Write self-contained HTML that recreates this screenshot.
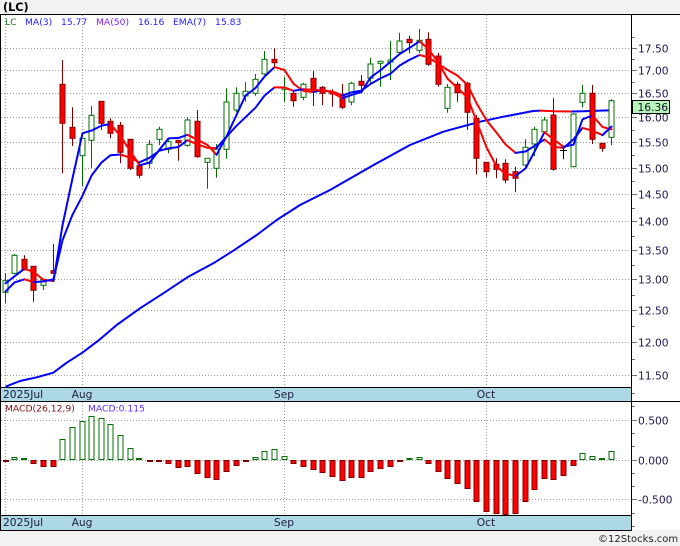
<!DOCTYPE html>
<html><head><meta charset="utf-8"><style>
html,body{margin:0;padding:0;background:#f2f2f2;}
svg{display:block;}
text{font-family:"DejaVu Sans","Liberation Sans",sans-serif;}
</style></head><body>
<svg width="680" height="546" viewBox="0 0 680 546" xmlns="http://www.w3.org/2000/svg">
<rect width="680" height="546" fill="#f2f2f2"/>
<rect x="0" y="15" width="680" height="515" fill="#ffffff"/>
<text x="3" y="11" font-size="11.2" font-weight="bold" fill="#000">(LC)</text>
<path d="M0 14.5H680" stroke="#000" stroke-width="1"/>

<!-- horizontal gridlines main -->
<g stroke="#9a9a9a" stroke-width="1" stroke-dasharray="1 2" fill="none">
<path d="M1 48.5H631M1 70.5H631M1 93.5H631M1 117.5H631M1 142.5H631M1 168.5H631M1 194.5H631M1 221.5H631M1 250.5H631M1 279.5H631M1 310.5H631M1 342.5H631M1 375.5H631"/>
<path d="M5.5 15V387M82.5 15V387M284.5 15V387M486.5 15V387"/>
<path d="M1 420.5H631M1 460.5H631M1 499.5H631"/>
<path d="M5.5 402V515M82.5 402V515M284.5 402V515M486.5 402V515"/>
</g>

<!-- date bars -->
<rect x="0" y="387" width="631" height="14" fill="#add8e6"/>
<path d="M0 387.5H631" stroke="#000"/>
<path d="M0 401.5H680" stroke="#000"/>
<rect x="0" y="515" width="631" height="15" fill="#add8e6"/>
<path d="M0 515.5H631" stroke="#000"/>
<path d="M0 530.5H632" stroke="#000"/>
<text x="3" y="398" font-size="10.7" fill="#202040">2025Jul</text>
<text x="82" y="398" font-size="10.7" fill="#202040" text-anchor="middle">Aug</text>
<text x="284" y="398" font-size="10.7" fill="#202040" text-anchor="middle">Sep</text>
<text x="486" y="398" font-size="10.7" fill="#202040" text-anchor="middle">Oct</text>
<text x="3" y="526" font-size="10.7" fill="#202040">2025Jul</text>
<text x="82" y="526" font-size="10.7" fill="#202040" text-anchor="middle">Aug</text>
<text x="284" y="526" font-size="10.7" fill="#202040" text-anchor="middle">Sep</text>
<text x="486" y="526" font-size="10.7" fill="#202040" text-anchor="middle">Oct</text>

<!-- MA50 -->
<polyline fill="none" stroke="#0000ff" stroke-width="2" stroke-linejoin="round" points="5.5,386.7 20,381 36.7,377.3 53.3,372.7 66.7,362.7 82.3,352.7 100,339.3 116.7,325 140,308.3 163.3,293.3 188.3,276.7 213.3,263.3 233.3,250.7 256.7,235 276.7,220 300,205 330,190 376.7,163.3 410,145 443.3,131.7 480,121.7 503.3,116.7 533.3,111 540,110.6"/>
<polyline fill="none" stroke="#ff0000" stroke-width="2" stroke-linejoin="round" points="540,110.6 553.3,111.3 572,111.5"/>
<polyline fill="none" stroke="#0000ff" stroke-width="2" stroke-linejoin="round" points="572,111.5 583.3,111.3 611.5,110.2"/>

<!-- green candles -->
<g stroke="#007000" stroke-width="1" fill="#ffffff">
<path d="M5.5 273V303M14.5 254V274M43.5 279V290M82.5 138V186M91.5 106V167.7M149.5 140V168.3M159.5 126.7V145M168.5 138.3V153.3M187.5 117.3V146.7M207.5 158.3V188.7M216.5 144V177.7M226.5 88.3V158.7M236.5 87.3V112.3M245.5 82V101.7M255.5 74V95.7M264.5 51V75M284.5 76.7V101.7M303.5 82.7V100M351.5 81.7V105.3M370.5 57.7V83.3M380.5 60.7V86.7M390.5 41V80M399.5 32.7V53.3M419.5 29V53.3M447.5 84V112.7M525.5 139.3V166.7M534.5 126.7V156M544.5 116.7V133.3M573.5 113.3V167.3M582.5 85V107.3M611.5 99.3V145"/>
<rect x="3" y="280.7" width="5" height="11.6"/>
<rect x="12" y="255.3" width="5" height="18"/>
<rect x="41" y="279.3" width="5" height="6"/>
<rect x="80" y="138.3" width="5" height="17.4"/>
<rect x="89" y="115.3" width="5" height="25"/>
<rect x="147" y="144.3" width="5" height="19"/>
<rect x="157" y="129.3" width="5" height="10"/>
<rect x="166" y="141.7" width="5" height="7.6"/>
<rect x="185" y="120" width="5" height="25.3"/>
<rect x="205" y="158.3" width="5" height="4"/>
<rect x="214" y="149.3" width="5" height="19"/>
<rect x="224" y="102" width="5" height="47.3"/>
<rect x="234" y="93.3" width="5" height="16.7"/>
<rect x="243" y="91.3" width="5" height="4.7"/>
<rect x="253" y="79.3" width="5" height="14"/>
<rect x="262" y="59.3" width="5" height="14.7"/>
<rect x="282" y="88" width="5" height="1.3"/>
<rect x="301" y="84.3" width="5" height="13"/>
<rect x="349" y="83.3" width="5" height="18.7"/>
<rect x="368" y="64" width="5" height="14.3"/>
<rect x="378" y="61.3" width="5" height="2"/>
<rect x="388" y="60" width="5" height="2"/>
<rect x="397" y="41" width="5" height="11.3"/>
<rect x="417" y="40.3" width="5" height="10"/>
<rect x="445" y="87.3" width="5" height="21"/>
<rect x="523" y="147.3" width="5" height="17.7"/>
<rect x="532" y="129.3" width="5" height="14.7"/>
<rect x="542" y="120" width="5" height="11.7"/>
<rect x="571" y="114" width="5" height="52.7"/>
<rect x="580" y="93.3" width="5" height="9"/>
<rect x="609" y="100.7" width="5" height="36.6"/>
</g>

<!-- red candles -->
<g stroke="#800000" stroke-width="1" fill="#ff0000">
<path d="M24.5 255.3V270M33.5 266V301.7M53.5 244V273.3M62.5 60V173.3M72.5 107.3V146M101.5 101.3V130M110.5 118.3V138.3M120.5 122V163.3M130.5 139.3V170M139.5 163.3V178.3M178.5 140.3V160.7M197.5 110V157.7M274.5 48.3V67.3M293.5 90.7V106.7M313.5 71V106M322.5 86V105M332.5 89.3V106.7M342.5 84V109.3M361.5 75V90M409.5 35.7V53.3M428.5 32.3V65.7M438.5 52.7V86.7M457.5 81.7V101.7M467.5 81.7V130M476.5 115V174.5M486.5 162.3V177.3M496.5 158.3V178.3M505.5 159.3V183.3M515.5 166.7V192.3M553.5 98.3V170.7M592.5 85V144M602.5 143.3V151.7"/>
<rect x="22" y="259.3" width="5" height="10.7"/>
<rect x="31" y="266.3" width="5" height="24"/>
<rect x="51" y="270.7" width="5" height="2.6"/>
<rect x="60" y="84.3" width="5" height="39"/>
<rect x="70" y="127.3" width="5" height="11"/>
<rect x="99" y="101.3" width="5" height="22"/>
<rect x="108" y="121.3" width="5" height="12"/>
<rect x="118" y="125.3" width="5" height="27"/>
<rect x="128" y="139.3" width="5" height="29"/>
<rect x="137" y="165.7" width="5" height="9.6"/>
<rect x="176" y="140.3" width="5" height="2.4"/>
<rect x="195" y="121.3" width="5" height="35.4"/>
<rect x="272" y="59.3" width="5" height="3.4"/>
<rect x="291" y="93.3" width="5" height="7.4"/>
<rect x="311" y="78.3" width="5" height="13"/>
<rect x="320" y="87.3" width="5" height="6"/>
<rect x="330" y="92" width="5" height="2"/>
<rect x="340" y="96" width="5" height="11.3"/>
<rect x="359" y="81.3" width="5" height="4"/>
<rect x="407" y="39.3" width="5" height="3.4"/>
<rect x="426" y="39.3" width="5" height="25"/>
<rect x="436" y="56" width="5" height="28.3"/>
<rect x="455" y="84.3" width="5" height="8.4"/>
<rect x="465" y="83.3" width="5" height="29"/>
<rect x="474" y="118.3" width="5" height="40"/>
<rect x="484" y="162.3" width="5" height="9.4"/>
<rect x="494" y="164.3" width="5" height="5"/>
<rect x="503" y="163.3" width="5" height="16.7"/>
<rect x="513" y="171.7" width="5" height="6.6"/>
<rect x="551" y="115" width="5" height="54.3"/>
<rect x="590" y="93.3" width="5" height="46"/>
<rect x="600" y="143.3" width="5" height="5"/>
</g>
<!-- doji -->
<path d="M563.5 146V159.3M560 150.5H567" stroke="#000" stroke-width="1"/>

<!-- MA3 -->
<g fill="none" stroke-width="2" stroke-linejoin="round" stroke-linecap="round">
<polyline stroke="#0000ff" points="5.5,283.3 14.5,276.3 24.5,268.7"/>
<polyline stroke="#ff0000" points="24.5,268.7 33.5,271.9 43.5,279.9 53.5,281"/>
<polyline stroke="#0000ff" points="53.5,281 62.5,225.3 72.5,178.3 82.5,133.3 91.5,130.6 101.5,125.6 110.5,124"/>
<polyline stroke="#ff0000" points="110.5,124 120.5,136.3 130.5,151.3 139.5,165.3"/>
<polyline stroke="#0000ff" points="139.5,165.3 149.5,162.6 159.5,149.6 168.5,138.4 178.5,137.9 187.5,134.8"/>
<polyline stroke="#ff0000" points="187.5,134.8 197.5,139.8 207.5,145 216.5,154.8"/>
<polyline stroke="#0000ff" points="216.5,154.8 226.5,136.5 236.5,114.9 245.5,95.5 255.5,88 264.5,76.6 274.5,67.1"/>
<polyline stroke="#ff0000" points="274.5,67.1 284.5,70 293.5,83.8 303.5,91 313.5,92.1"/>
<polyline stroke="#0000ff" points="313.5,92.1 322.5,89.6"/>
<polyline stroke="#ff0000" points="322.5,89.6 332.5,92.9 342.5,98.2"/>
<polyline stroke="#0000ff" points="342.5,98.2 351.5,94.9 361.5,92 370.5,77.5 380.5,70.2 390.5,61.8 399.5,54.1 409.5,47.9 419.5,41.3"/>
<polyline stroke="#ff0000" points="419.5,41.3 428.5,49.1 438.5,63 447.5,78.6 457.5,88.1 467.5,97.4 476.5,121.1 486.5,147.4 496.5,166.4 505.5,173.7 515.5,175.9"/>
<polyline stroke="#0000ff" points="515.5,175.9 525.5,168.5 534.5,151.6 544.5,132.2"/>
<polyline stroke="#ff0000" points="544.5,132.2 553.5,139.5 563.5,146.7"/>
<polyline stroke="#0000ff" points="563.5,146.7 573.5,144.7 582.5,119.3 592.5,115.5"/>
<polyline stroke="#ff0000" points="592.5,115.5 602.5,127 611.5,129.4"/>
</g>
<!-- EMA7 -->
<g fill="none" stroke-width="2" stroke-linejoin="round" stroke-linecap="round">
<polyline stroke="#0000ff" points="5.5,291.4 14.5,282.4 24.5,279.3"/>
<polyline stroke="#ff0000" points="24.5,279.3 33.5,282.1"/>
<polyline stroke="#0000ff" points="33.5,282.1 43.5,281.4 53.5,279.4 62.5,240.3 72.5,214.8 82.5,195.7 91.5,175.6 101.5,162.5 110.5,155.2 120.5,154.5"/>
<polyline stroke="#ff0000" points="120.5,154.5 130.5,157.9 139.5,162.3"/>
<polyline stroke="#0000ff" points="139.5,162.3 149.5,157.8 159.5,150.7 168.5,148.4 178.5,147 187.5,140.2"/>
<polyline stroke="#ff0000" points="187.5,140.2 197.5,144.4 207.5,147.8 216.5,148.2"/>
<polyline stroke="#0000ff" points="216.5,148.2 226.5,136.7 236.5,125.8 245.5,117.2 255.5,107.7 264.5,95.6 274.5,87.4"/>
<polyline stroke="#ff0000" points="274.5,87.4 284.5,87.5 293.5,90.8"/>
<polyline stroke="#0000ff" points="293.5,90.8 303.5,89.2"/>
<polyline stroke="#ff0000" points="303.5,89.2 313.5,89.7 322.5,90.6 332.5,91.5 342.5,95.4"/>
<polyline stroke="#0000ff" points="342.5,95.4 351.5,92.4 361.5,90.6 370.5,84 380.5,78.3 390.5,73.7 399.5,65.6 409.5,59.8 419.5,55"/>
<polyline stroke="#ff0000" points="419.5,55 428.5,57.3 438.5,64.1 447.5,69.9 457.5,75.6 467.5,84.8 476.5,103.2 486.5,120.3 496.5,132.6 505.5,144.4 515.5,152.9"/>
<polyline stroke="#0000ff" points="515.5,152.9 525.5,151.5 534.5,146 544.5,139.5"/>
<polyline stroke="#ff0000" points="544.5,139.5 553.5,146.9 563.5,147.9"/>
<polyline stroke="#0000ff" points="563.5,147.9 573.5,139.4 582.5,127.9"/>
<polyline stroke="#ff0000" points="582.5,127.9 592.5,130.8 602.5,135.1"/>
<polyline stroke="#0000ff" points="602.5,135.1 611.5,126.5"/>
</g>

<!-- legend -->
<text y="25" font-size="9.2">
<tspan x="5" fill="#1f7a1f">LC</tspan>
<tspan x="25" fill="#2222ff">MA(3)</tspan>
<tspan x="61" fill="#2222ff">15.77</tspan>
<tspan x="96" fill="#7a22ff">MA(50)</tspan>
<tspan x="138" fill="#2222ff">16.16</tspan>
<tspan x="173" fill="#2222ff">EMA(7)</tspan>
<tspan x="215" fill="#2222ff">15.83</tspan>
</text>

<!-- MACD bars -->
<g stroke="#007000" stroke-width="1" fill="#ffffff">
<rect x="12" y="457.5" width="5" height="2"/>
<rect x="60" y="439.5" width="5" height="20"/>
<rect x="70" y="427.5" width="5" height="32"/>
<rect x="80" y="421.5" width="5" height="38"/>
<rect x="89" y="416.5" width="5" height="43"/>
<rect x="99" y="418.5" width="5" height="41"/>
<rect x="108" y="424.5" width="5" height="35"/>
<rect x="118" y="435.5" width="5" height="24"/>
<rect x="128" y="448.5" width="5" height="11"/>
<rect x="253" y="457.5" width="5" height="2"/>
<rect x="262" y="451.5" width="5" height="8"/>
<rect x="272" y="449.5" width="5" height="10"/>
<rect x="282" y="456.5" width="5" height="3"/>
<rect x="407" y="458.5" width="5" height="1"/>
<rect x="417" y="457.5" width="5" height="2"/>
<rect x="580" y="453.5" width="5" height="6"/>
<rect x="590" y="456.5" width="5" height="3"/>
<rect x="609" y="451.5" width="5" height="8"/>
</g>
<g fill="#007000">
<rect x="21" y="458" width="6" height="2"/>
<rect x="136" y="458" width="6" height="2"/>
<rect x="599" y="458" width="6" height="2"/>
</g>
<g fill="#800000">
<rect x="3" y="460" width="6" height="2"/>
<rect x="147" y="460" width="6" height="2"/>
<rect x="156" y="460" width="6" height="2"/>
<rect x="243" y="460" width="6" height="2"/>
<rect x="397" y="460" width="6" height="2"/>
</g>
<g stroke="#800000" stroke-width="1" fill="#ff0000">
<rect x="31" y="460.5" width="5" height="3"/>
<rect x="41" y="460.5" width="5" height="6"/>
<rect x="51" y="460.5" width="5" height="6"/>
<rect x="166" y="460.5" width="5" height="3"/>
<rect x="176" y="460.5" width="5" height="7"/>
<rect x="185" y="460.5" width="5" height="6"/>
<rect x="195" y="460.5" width="5" height="13"/>
<rect x="205" y="460.5" width="5" height="17"/>
<rect x="214" y="460.5" width="5" height="19"/>
<rect x="224" y="460.5" width="5" height="11"/>
<rect x="234" y="460.5" width="5" height="5"/>
<rect x="291" y="460.5" width="5" height="3"/>
<rect x="301" y="460.5" width="5" height="6"/>
<rect x="311" y="460.5" width="5" height="9"/>
<rect x="320" y="460.5" width="5" height="12"/>
<rect x="330" y="460.5" width="5" height="16"/>
<rect x="340" y="460.5" width="5" height="20"/>
<rect x="349" y="460.5" width="5" height="17"/>
<rect x="359" y="460.5" width="5" height="17"/>
<rect x="368" y="460.5" width="5" height="11"/>
<rect x="378" y="460.5" width="5" height="8"/>
<rect x="388" y="460.5" width="5" height="6"/>
<rect x="426" y="460.5" width="5" height="3"/>
<rect x="436" y="460.5" width="5" height="11"/>
<rect x="445" y="460.5" width="5" height="18"/>
<rect x="455" y="460.5" width="5" height="23"/>
<rect x="465" y="460.5" width="5" height="28"/>
<rect x="474" y="460.5" width="5" height="41"/>
<rect x="484" y="460.5" width="5" height="51"/>
<rect x="494" y="460.5" width="5" height="53"/>
<rect x="503" y="460.5" width="5" height="54"/>
<rect x="513" y="460.5" width="5" height="53"/>
<rect x="523" y="460.5" width="5" height="41"/>
<rect x="532" y="460.5" width="5" height="29"/>
<rect x="542" y="460.5" width="5" height="18"/>
<rect x="551" y="460.5" width="5" height="19"/>
<rect x="561" y="460.5" width="5" height="15"/>
<rect x="571" y="460.5" width="5" height="5"/>
</g>
<text x="5" y="411.5" font-size="9.2" fill="#7a1010">MACD(26,12,9)</text>
<text x="88" y="411.5" font-size="9.2" fill="#5a2dff">MACD:0.115</text>

<!-- borders / axis -->
<path d="M0.5 15V530" stroke="#000"/>
<path d="M631.5 15V530" stroke="#000"/>
<g stroke="#707070" stroke-width="1">
<path d="M632 37.5H635M632 59.5H635M632 82.5H635M632 106.5H635M632 130.5H635M632 155.5H635M632 181.5H635M632 208.5H635M632 236.5H635M632 265.5H635M632 295.5H635M632 326.5H635M632 359.5H635M632 393.5H635"/>
<path d="M632 48.5H637M632 70.5H637M632 93.5H637M632 117.5H637M632 142.5H637M632 168.5H637M632 194.5H637M632 221.5H637M632 250.5H637M632 279.5H637M632 310.5H637M632 342.5H637M632 375.5H637"/>
<path d="M632 406.5H635M632 433.5H635M632 446.5H635M632 473.5H635M632 486.5H635M632 513.5H635M632 526.5H635"/>
<path d="M632 420.5H637M632 460.5H637M632 499.5H637"/>
</g>
<g font-size="10.7" fill="#201850">
<text x="638" y="52.5">17.50</text>
<text x="638" y="74.5">17.00</text>
<text x="638" y="97.5">16.50</text>
<text x="638" y="121.5">16.00</text>
<text x="638" y="146.5">15.50</text>
<text x="638" y="172.5">15.00</text>
<text x="638" y="198.5">14.50</text>
<text x="638" y="225.5">14.00</text>
<text x="638" y="254.5">13.50</text>
<text x="638" y="283.5">13.00</text>
<text x="638" y="314.5">12.50</text>
<text x="638" y="346.5">12.00</text>
<text x="638" y="379.5">11.50</text>
<text x="638" y="424.5">0.500</text>
<text x="638" y="464.5">0.000</text>
<text x="638" y="503.5">-0.500</text>
</g>
<rect x="632.5" y="100.5" width="37" height="13" fill="#b8f5b8" stroke="#000" stroke-width="1"/>
<text x="637.5" y="111" font-size="10.7" fill="#101030">16.36</text>

<text x="598" y="542" font-size="10" fill="#222">©12Stocks.com</text>
</svg>
</body></html>
